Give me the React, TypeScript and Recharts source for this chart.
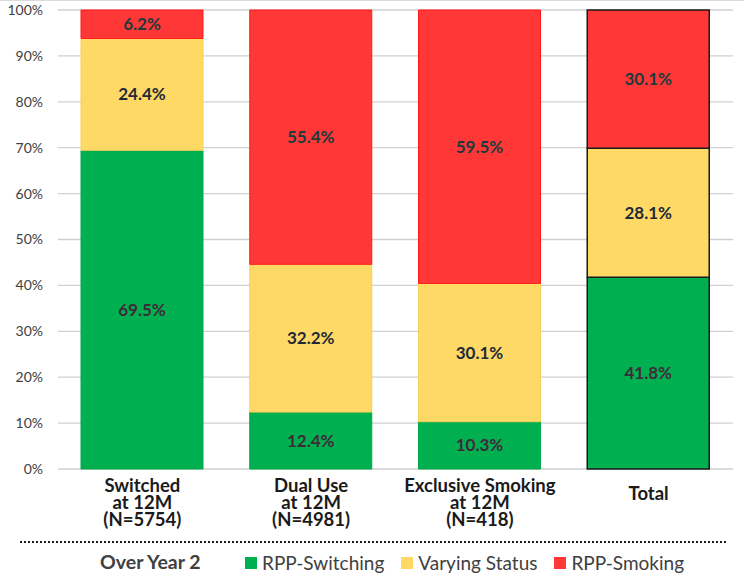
import React from "react";
import {
  BarChart,
  Bar,
  XAxis,
  YAxis,
  CartesianGrid,
  LabelList,
  Cell,
} from "recharts";

const categories = ["Switched", "Dual Use", "Exclusive Smoking", "Total"];
const categoryLines = [
  ["Switched", "at 12M", "(N=5754)"],
  ["Dual Use", "at 12M", "(N=4981)"],
  ["Exclusive Smoking", "at 12M", "(N=418)"],
  ["Total"],
];
const switching = [69.5, 12.4, 10.3, 41.8];
const varying = [24.4, 32.2, 30.1, 28.1];
const smoking = [6.2, 55.4, 59.5, 30.1];
const yTickPct = [0, 10, 20, 30, 40, 50, 60, 70, 80, 90, 100];

const seriesNames = ["RPP-Switching", "Varying Status", "RPP-Smoking"];
const GREEN = "#00b050";
const YELLOW = "#ffd966";
const RED = "#ff3737";

const data = categories.map((name, i) => ({
  name,
  sw: switching[i],
  vs: varying[i],
  sm: smoking[i],
}));

const FONT = "Lato, 'Open Sans', sans-serif";

// multi-line category label under each bar
const XTick = (props: any) => {
  const { x, y, index } = props;
  const lines = categoryLines[index] || [];
  const startDy = lines.length === 1 ? 31 : 23;
  return (
    <g>
      {lines.map((l, i) => (
        <text
          key={i}
          x={x}
          y={y + startDy + i * 17}
          textAnchor="middle"
          fontFamily={FONT}
          fontWeight={700}
          fontSize={18.5}
          fill="#1a1a1a"
        >
          {l}
        </text>
      ))}
    </g>
  );
};

const labelFmt = (v: any) => `${Number(v).toFixed(1)}%`;

const App = () => {
  const last = categories.length - 1;
  return (
    <div
      style={{
        position: "absolute",
        left: 0,
        top: 0,
        width: 744,
        height: 574,
        background: "#fff",
        borderTop: "1px solid #dcdcdc",
        boxSizing: "border-box",
        fontFamily: FONT,
      }}
    >
      <BarChart
        width={744}
        height={573}
        data={data}
        stackOffset="expand"
        barSize={122}
        margin={{ top: 9, right: 11, left: 0, bottom: 0 }}
      >
        <CartesianGrid vertical={false} stroke="#d0d0d0" strokeWidth={1.3} />
        <XAxis
          dataKey="name"
          axisLine={false}
          tickLine={false}
          tickSize={0}
          tickMargin={0}
          height={105}
          interval={0}
          tick={<XTick />}
        />
        <YAxis
          width={58}
          domain={[0, 1]}
          ticks={yTickPct.map((v) => v / 100)}
          tickFormatter={(v: number) => `${Math.round(v * 100)}%`}
          axisLine={false}
          tickLine={false}
          tickMargin={9}
          tick={{ fontSize: 14, fill: "#404040", fontFamily: FONT }}
        />
        <Bar dataKey="sw" name={seriesNames[0]} stackId="a" fill={GREEN} isAnimationActive={false}>
          {data.map((_, i) => (
            <Cell key={i} stroke={i === last ? "#1a1a1a" : "#00a648"} strokeWidth={i === last ? 1.5 : 1} />
          ))}
          <LabelList dataKey="sw" position="center" formatter={labelFmt} fill="#3d2b3a" fontSize={17} fontWeight={700} fontFamily={FONT} />
        </Bar>
        <Bar dataKey="vs" name={seriesNames[1]} stackId="a" fill={YELLOW} isAnimationActive={false}>
          {data.map((_, i) => (
            <Cell key={i} stroke={i === last ? "#1a1a1a" : "#f5cf5c"} strokeWidth={i === last ? 1.5 : 1} />
          ))}
          <LabelList dataKey="vs" position="center" formatter={labelFmt} fill="#1f2937" fontSize={17} fontWeight={700} fontFamily={FONT} />
        </Bar>
        <Bar dataKey="sm" name={seriesNames[2]} stackId="a" fill={RED} isAnimationActive={false}>
          {data.map((_, i) => (
            <Cell key={i} stroke={i === last ? "#1a1a1a" : "#ff1a1a"} strokeWidth={i === last ? 1.5 : 1} />
          ))}
          <LabelList dataKey="sm" position="center" formatter={labelFmt} fill="#1d3b3d" fontSize={17} fontWeight={700} fontFamily={FONT} />
        </Bar>
      </BarChart>

      {/* dotted separator + legend row */}
      <div
        style={{
          position: "absolute",
          left: 20,
          top: 540,
          width: 706,
          borderTop: "2.5px dotted #1a1a1a",
        }}
      />
      <div
        style={{
          position: "absolute",
          left: 100,
          top: 550,
          fontSize: 19.5,
          fontWeight: 700,
          color: "#404040",
          lineHeight: "22px",
        }}
      >
        Over Year 2
      </div>
      <div
        style={{
          position: "absolute",
          left: 245,
          top: 551,
          display: "flex",
          gap: 17,
          fontSize: 19,
          color: "#404040",
          lineHeight: "22px",
        }}
      >
        {seriesNames.map((n, i) => (
          <div key={n} style={{ display: "flex", alignItems: "center", gap: 5 }}>
            <span
              style={{
                display: "inline-block",
                width: 12,
                height: 12,
                background: [GREEN, YELLOW, RED][i],
              }}
            />
            <span>{n}</span>
          </div>
        ))}
      </div>
    </div>
  );
};

export default App;
